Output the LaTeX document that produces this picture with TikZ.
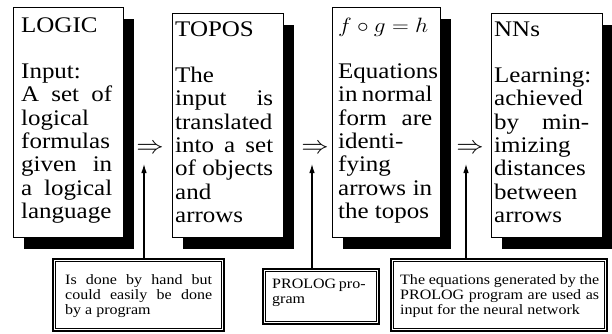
\documentclass[tikz,border=0pt]{standalone}
\usepackage{fontspec}
\setmainfont{Liberation Serif}[FakeStretch=1.12]
\usepackage{graphicx}
\usetikzlibrary{shadows,arrows.meta}
\tikzset{
  mainbox/.style={draw, line width=1.1pt, fill=white, anchor=north west, inner sep=0pt,
    minimum width=110pt, minimum height=230pt,
    drop shadow={shadow xshift=10pt, shadow yshift=-11pt, fill=black, opacity=1}},
  maintext/.style={anchor=base west, inner sep=0pt, font=\fontsize{22.3}{23.3}\selectfont},
  notebox/.style={draw, line width=1.6pt, anchor=north west, inner sep=0pt},
  notetext/.style={anchor=base west, inner sep=0pt, font=\fontsize{14.3}{15}\selectfont},
  impl/.style={anchor=center, inner sep=0pt, font=\fontsize{24}{24}\selectfont},
  uparrow/.style={line width=1.1pt, -{Latex[length=9pt,width=5.5pt]}},
}
\newcommand{\jline}[1]{\makebox[\linewidth][s]{#1}}
\newcommand{\innerframe}[1]{\draw[line width=0.8pt] ([xshift=3.6pt,yshift=-3.6pt]#1.north west) rectangle ([xshift=-3.6pt,yshift=3.6pt]#1.south east);}
\begin{document}
\begin{tikzpicture}[x=1pt,y=-1pt]
\useasboundingbox (0,0) rectangle (612,333);
% main boxes
\node[mainbox, minimum height=230pt] (box1) at (13,7) {};
\node[mainbox, minimum width=111pt, minimum height=224pt] (box2) at (172,13) {};
\node[mainbox, minimum width=108pt, minimum height=230pt] (box3) at (332,7) {};
\node[mainbox, minimum width=111pt, minimum height=224pt] (box4) at (491,13) {};
% texts
\node[maintext] (t1) at (21,32) {\parbox[t]{91pt}{LOGIC\\[23.3pt]Input:\\\jline{A set of}\\\mbox{logical}\\\mbox{formulas}\\\jline{given in}\\\jline{a logical}\\\mbox{language}}};
\node[maintext] (t2) at (175,36) {\parbox[t]{98pt}{TOPOS\\[23.3pt]The\\\jline{input is}\\\mbox{translated}\\\jline{into a set}\\\jline{of objects}\\and\\\mbox{arrows}}};
\node[maintext] (t3) at (338,32) {\parbox[t]{94pt}{\scalebox{1.12}[1]{$f\circ g=h$}\\[23.3pt]\mbox{Equations}\\\jline{in normal}\\\jline{form are}\\\mbox{identi-}\\\mbox{fying}\\\jline{arrows in}\\\mbox{the topos}}};
\node[maintext] (t4) at (494,36) {\parbox[t]{95pt}{NNs\\[23.3pt]\mbox{Learning:}\\\mbox{achieved}\\\jline{by min-}\\\mbox{imizing}\\\mbox{distances}\\\mbox{between}\\\mbox{arrows}}};
% implication symbols
\node[impl] (i1) at (150,149) {\scalebox{1.1}[1]{$\Rightarrow$}};
\node[impl] (i2) at (315,149) {\scalebox{1.1}[1]{$\Rightarrow$}};
\node[impl] (i3) at (470,149) {\scalebox{1.1}[1]{$\Rightarrow$}};
% bottom note boxes
\node[notebox, minimum width=171pt, minimum height=72pt] (noteA) at (52,258) {};
\node[notebox, minimum width=116pt, minimum height=55pt] (noteB) at (262,268) {};
\node[notebox, minimum width=216pt, minimum height=72pt] (noteC) at (390,258) {};
\innerframe{noteA}
\innerframe{noteB}
\innerframe{noteC}
\node[notetext] (nA) at (65,284) {\parbox[t]{147pt}{\jline{Is done by hand but}\\\jline{could easily be done}\\by a program}};
\node[notetext] (nB) at (272,288) {\parbox[t]{93pt}{\jline{PROLOG pro-}\\gram}};
\node[notetext] (nC) at (400,284) {\parbox[t]{199pt}{\jline{The equations generated by the}\\\jline{PROLOG program are used as}\\input for the neural network}};
% arrow tips
\coordinate (tip1) at (144,164);
\coordinate (tip2) at (312,164);
\coordinate (tip3) at (466,164);
\draw[uparrow] (noteA.north -| tip1) -- (tip1);
\draw[uparrow] (noteB.north -| tip2) -- (tip2);
\draw[uparrow] (noteC.north -| tip3) -- (tip3);
\end{tikzpicture}
\end{document}
